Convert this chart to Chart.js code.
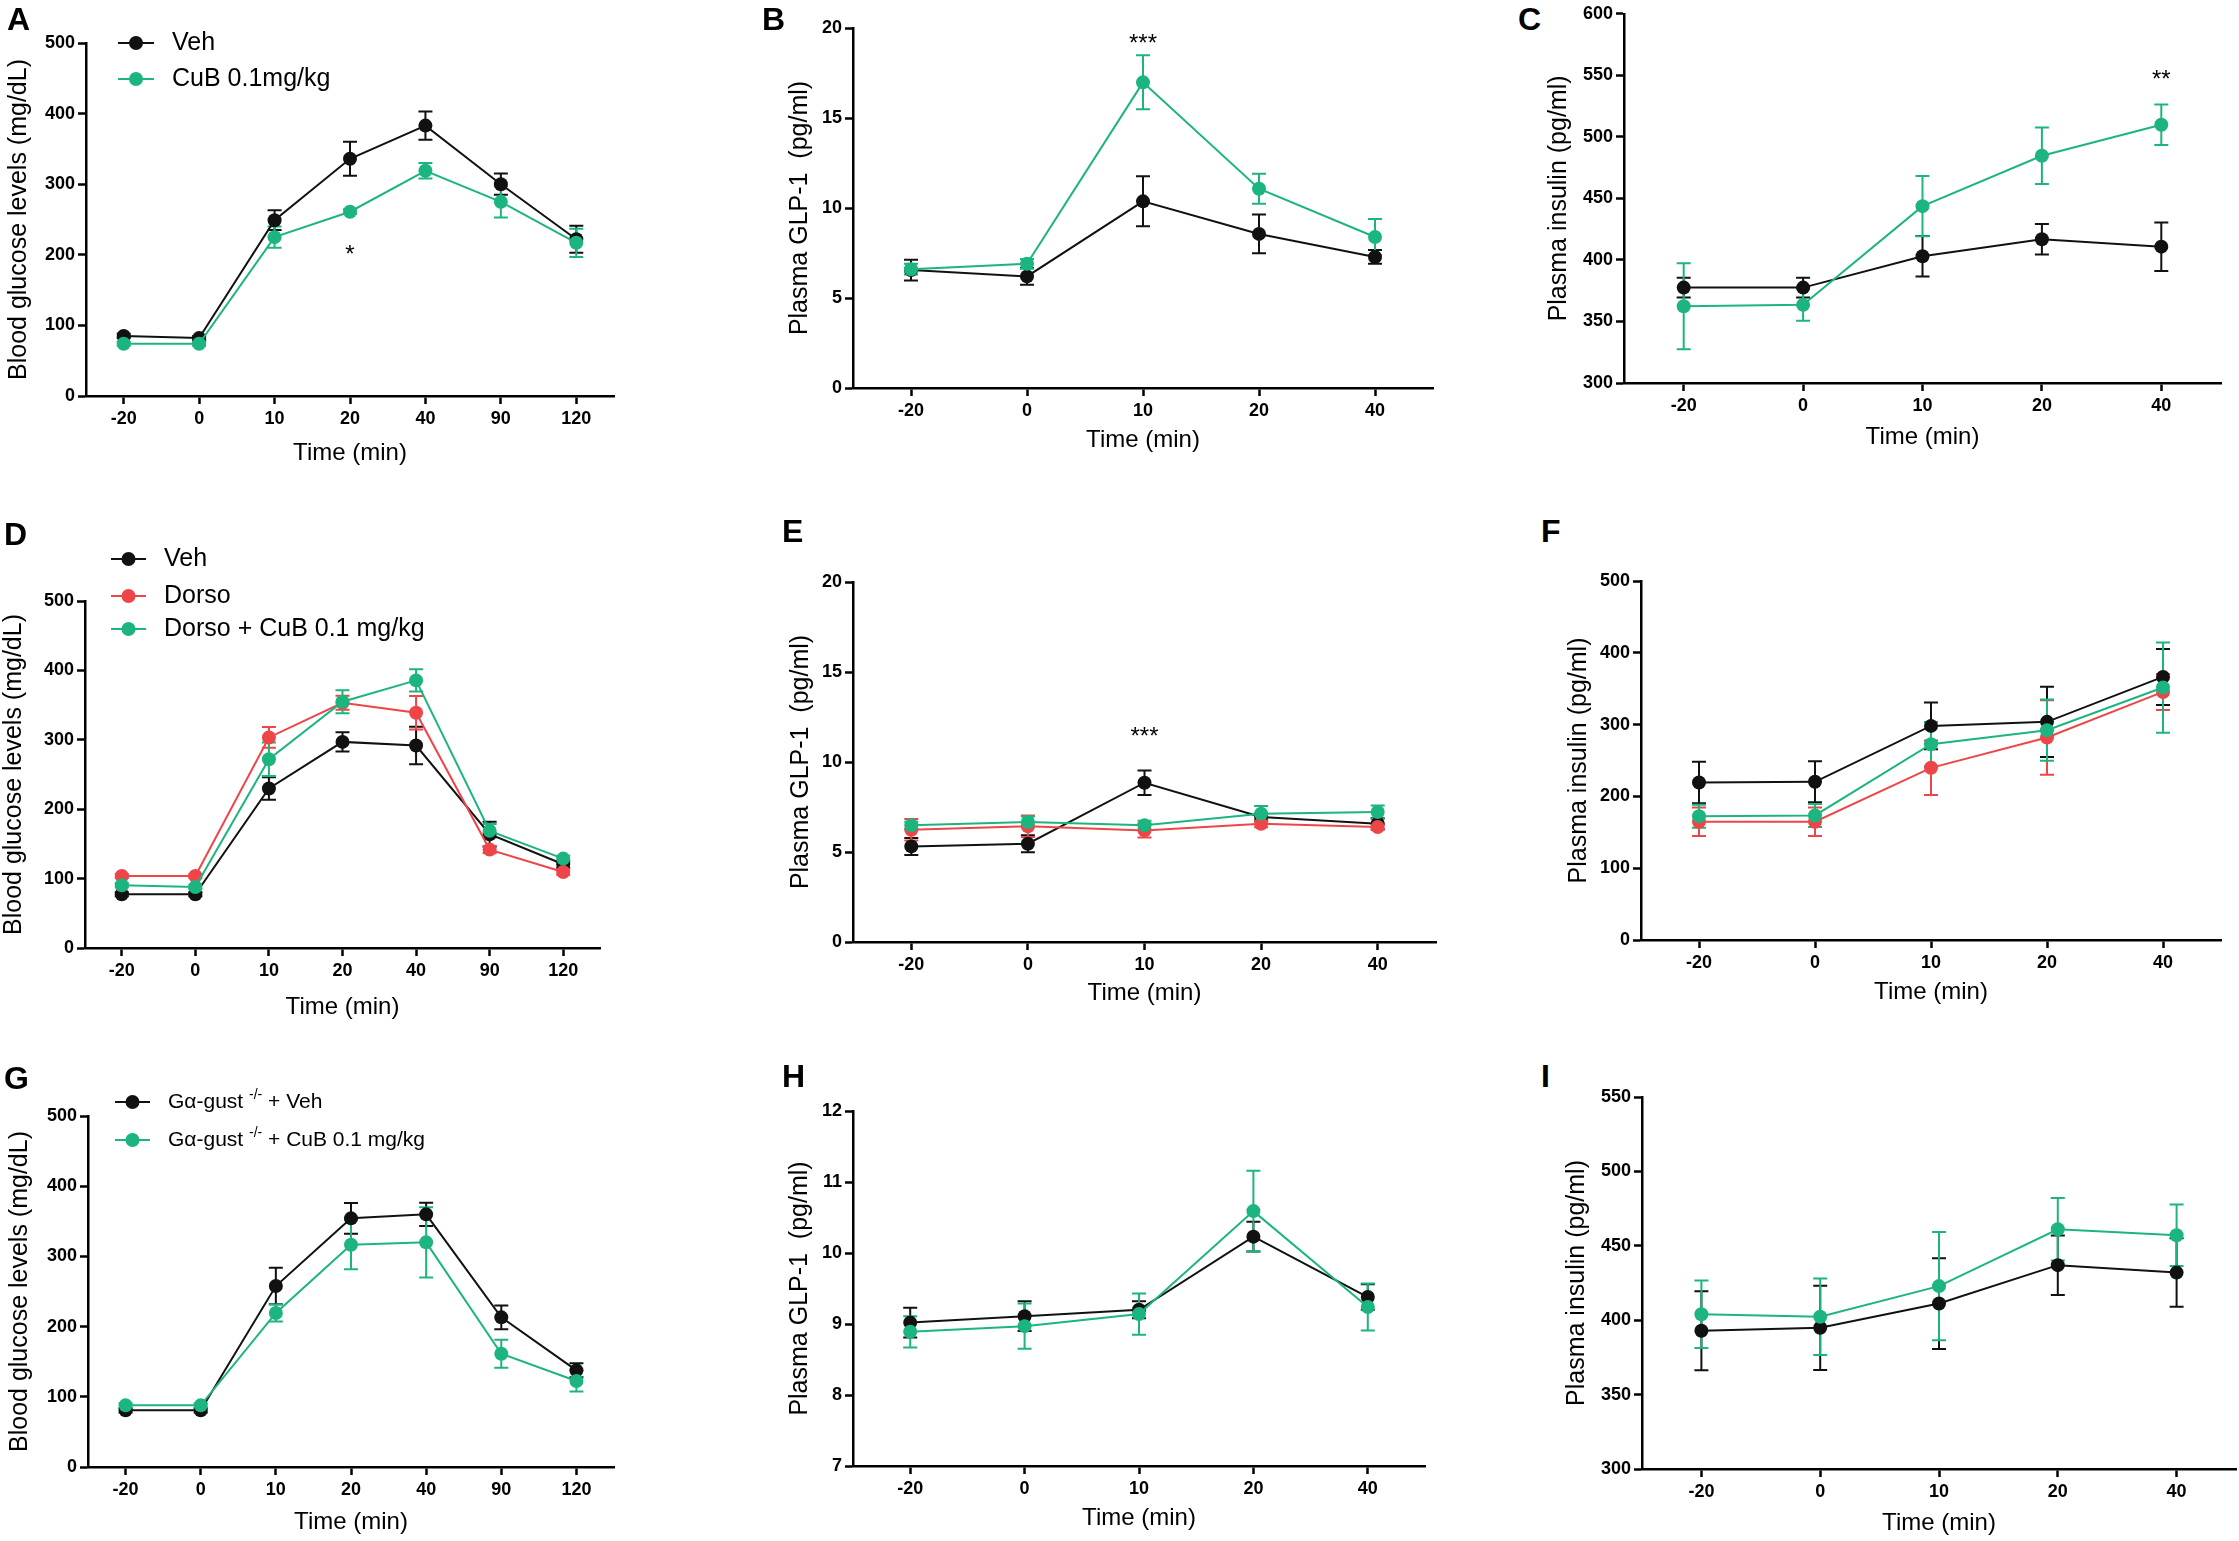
<!DOCTYPE html>
<html>
<head>
<meta charset="utf-8">
<script src="https://cdn.jsdelivr.net/npm/chart.js@4.4.0/dist/chart.umd.min.js"></script>
<style>
  html, body { margin: 0; padding: 0; background: #fff; }
  #page { position: relative; width: 2239px; height: 1541px; overflow: hidden; background: #fff; }
  #page canvas { position: absolute; }
  .letter { position: absolute; font: bold 32px "Liberation Sans", Arial, sans-serif; line-height: 32px; color: #000; z-index: 5; }
</style>
</head>
<body>
<div id="page"></div>
<script>
// x categories
const timesGlucose = ['-20', '0', '10', '20', '40', '90', '120'];
const timesHormone = ['-20', '0', '10', '20', '40'];

// A - blood glucose, Veh vs CuB
const aVeh = [85, 82, 249, 336, 383, 300, 222];
const aVehErr = [3, 3, 14, 24, 20, 15, 19];
const aCub = [74, 74, 225, 261, 319, 275, 217];
const aCubErr = [3, 3, 15, 3, 11, 22, 20];

// B - GLP-1
const bVeh = [6.55, 6.2, 10.37, 8.56, 7.28];
const bVehErr = [0.58, 0.46, 1.39, 1.08, 0.38];
const bCub = [6.6, 6.9, 16.98, 11.07, 8.39];
const bCubErr = [0.3, 0.27, 1.5, 0.83, 1.0];

// C - insulin
const cVeh = [377.5, 377.5, 403, 416.8, 410.8];
const cVehErr = [8, 8, 16.5, 12.4, 19.7];
const cCub = [362.4, 363.5, 443.7, 484.6, 509.8];
const cCubErr = [35, 13, 24.5, 23, 16.4];

// D - blood glucose with dorsomorphin
const dVeh = [77.4, 77.4, 229.8, 297, 291.8, 164, 120.7];
const dVehErr = [3, 3, 16.3, 14, 27, 18, 5];
const dDorso = [103.8, 103.8, 303.4, 353.4, 339, 141.8, 109.6];
const dDorsoErr = [3, 3, 15, 10, 24, 5, 4];
const dDorsoCub = [90.4, 88, 272, 354.8, 385.6, 168.8, 128.8];
const dDorsoCubErr = [3, 3, 24, 16.5, 16, 10, 4];

// E - GLP-1 with dorsomorphin
const eVeh = [5.31, 5.46, 8.85, 6.94, 6.57];
const eVehErr = [0.47, 0.47, 0.68, 0.2, 0.3];
const eDorso = [6.24, 6.43, 6.2, 6.57, 6.39];
const eDorsoErr = [0.6, 0.6, 0.4, 0.2, 0.15];
const eDorsoCub = [6.48, 6.67, 6.48, 7.13, 7.22];
const eDorsoCubErr = [0.2, 0.3, 0.25, 0.43, 0.37];

// F - insulin with dorsomorphin
const fVeh = [219.4, 220.3, 298.2, 303.8, 366.4];
const fVehErr = [29, 28.6, 32.7, 49, 39];
const fDorso = [164.7, 164.7, 239.8, 282, 345.5];
const fDorsoErr = [20, 20, 38, 52, 25];
const fDorsoCub = [172.5, 173.5, 272.7, 292.2, 351.6];
const fDorsoCubErr = [16, 16, 31, 42.7, 62.8];

// G - blood glucose, gustducin knockout
const gVeh = [80.7, 80.7, 257.8, 354.2, 359.9, 213.2, 137.7];
const gVehErr = [3, 3, 26, 22, 16.6, 17, 10];
const gCub = [87.8, 87.8, 219.4, 316.7, 320, 161.4, 122.5];
const gCubErr = [3, 3, 12, 35, 50, 20, 15];

// H - GLP-1, gustducin knockout
const hVeh = [9.02, 9.11, 9.2, 10.23, 9.38];
const hVehErr = [0.21, 0.21, 0.12, 0.21, 0.18];
const hCub = [8.89, 8.97, 9.14, 10.59, 9.24];
const hCubErr = [0.22, 0.32, 0.29, 0.57, 0.33];

// I - insulin, gustducin knockout
const iVeh = [392.9, 394.9, 411.2, 437, 432];
const iVehErr = [26.6, 28.3, 30.5, 20, 23];
const iCub = [404, 402.3, 422.9, 461.1, 457.1];
const iCubErr = [22.6, 25.7, 36.4, 21, 20.6];

const BLACK = '#111111';
const GREEN = '#1db57f';
const RED = '#ee4648';
const SANS = '"Liberation Sans", Arial, sans-serif';

const page = document.getElementById('page');

// error bars drawn under the points, through the chart's own scales
const errorBars = {
  id: 'errorBars',
  beforeDatasetsDraw(chart) {
    const ctx = chart.ctx;
    const y = chart.scales.y;
    chart.data.datasets.forEach((ds, di) => {
      const meta = chart.getDatasetMeta(di);
      ctx.save();
      ctx.strokeStyle = ds.borderColor;
      ctx.lineWidth = 2;
      meta.data.forEach((pt, i) => {
        const v = ds.data[i], e = ds.err[i];
        const top = y.getPixelForValue(v + e), bot = y.getPixelForValue(v - e);
        ctx.beginPath();
        ctx.moveTo(pt.x, top); ctx.lineTo(pt.x, bot);
        ctx.moveTo(pt.x - 7, top); ctx.lineTo(pt.x + 7, top);
        ctx.moveTo(pt.x - 7, bot); ctx.lineTo(pt.x + 7, bot);
        ctx.stroke();
      });
      ctx.restore();
    });
  }
};

// significance stars
const stars = {
  id: 'stars',
  afterDatasetsDraw(chart, args, opts) {
    const ctx = chart.ctx;
    (opts.items || []).forEach(it => {
      const px = chart.scales.x.getPixelForValue(chart.data.labels.indexOf(it.x));
      const py = chart.scales.y.getPixelForValue(it.y);
      ctx.save();
      ctx.fillStyle = '#000';
      ctx.font = '24px ' + SANS;
      ctx.textAlign = 'center';
      ctx.textBaseline = 'alphabetic';
      ctx.fillText(it.text, px, py + 0.58 * 24);
      ctx.restore();
    });
  }
};

// legend: line + dot, then text (parts may be superscript)
const panelLegend = {
  id: 'panelLegend',
  afterDraw(chart, args, opts) {
    if (!opts.rows) return;
    const ctx = chart.ctx;
    chart.data.datasets.forEach((ds, i) => {
      const y = opts.rows[i];
      ctx.save();
      ctx.strokeStyle = ds.borderColor;
      ctx.fillStyle = ds.borderColor;
      ctx.lineWidth = 2;
      ctx.beginPath(); ctx.moveTo(opts.x0, y); ctx.lineTo(opts.x1, y); ctx.stroke();
      ctx.beginPath(); ctx.arc((opts.x0 + opts.x1) / 2, y, 7, 0, Math.PI * 2); ctx.fill();
      ctx.fillStyle = '#000';
      ctx.textBaseline = 'middle';
      let x = opts.tx;
      const parts = ds.legendParts || [{ t: ds.label }];
      parts.forEach(p => {
        const size = p.sup ? opts.supSize : opts.size;
        ctx.font = size + 'px ' + SANS;
        ctx.fillText(p.t, x, p.sup ? y - opts.size * 0.35 : y);
        x += ctx.measureText(p.t).width;
      });
      ctx.restore();
    });
  }
};

function makePanel(p) {
  const cLeft = Math.round(p.titleX - 15);
  const cTop = Math.max(0, p.plotTop - 70);
  const cRight = Math.min(2239, p.endX + 12);
  const cBottom = Math.round(p.timeY + 15);
  const canvas = document.createElement('canvas');
  canvas.width = cRight - cLeft;
  canvas.height = cBottom - cTop;
  canvas.style.left = cLeft + 'px';
  canvas.style.top = cTop + 'px';
  canvas.style.width = canvas.width + 'px';
  canvas.style.height = canvas.height + 'px';
  page.appendChild(canvas);

  const yW = p.axisX - cLeft;
  const xH = cBottom - p.plotBottom;
  const n = p.series.length;

  new Chart(canvas, {
    type: 'line',
    data: {
      labels: p.labels,
      datasets: p.series.map((s, i) => ({
        label: s.label,
        legendParts: s.parts,
        data: s.data,
        err: s.err,
        borderColor: s.color,
        backgroundColor: s.color,
        pointBackgroundColor: s.color,
        pointBorderWidth: 0,
        pointRadius: 7,
        borderWidth: 2,
        tension: 0,
        order: n - i
      }))
    },
    options: {
      responsive: false,
      animation: false,
      devicePixelRatio: 1,
      layout: {
        autoPadding: false,
        padding: { left: 0, top: p.plotTop - cTop, right: cRight - p.endX, bottom: 0 }
      },
      plugins: {
        legend: { display: false },
        tooltip: { enabled: false },
        stars: { items: p.stars || [] },
        panelLegend: p.legend ? {
          x0: p.legend.x0 - cLeft, x1: p.legend.x1 - cLeft, tx: p.legend.tx - cLeft,
          rows: p.legend.rows.map(r => r - cTop), size: p.legend.size, supSize: p.legend.supSize
        } : {}
      },
      scales: {
        x: {
          type: 'category',
          offset: true,
          afterFit(scale) { scale.height = xH; },
          border: { display: true, color: '#000', width: 2.5 },
          grid: { display: true, offset: false, drawOnChartArea: false, drawTicks: true, tickLength: 8, tickWidth: 2.5, tickColor: '#000' },
          ticks: { color: '#000', padding: 4, maxRotation: 0, font: { family: SANS, size: 18, weight: 'bold' } },
          title: { display: true, text: 'Time (min)', color: '#000', padding: 0, font: { family: SANS, size: 24 } }
        },
        y: {
          min: p.yMin, max: p.yMax,
          afterFit(scale) { scale.width = yW; },
          border: { display: true, color: '#000', width: 2.5 },
          grid: { display: true, drawOnChartArea: false, drawTicks: true, tickLength: 8, tickWidth: 2.5, tickColor: '#000' },
          ticks: { stepSize: p.yStep, color: '#000', padding: 3, font: { family: SANS, size: 18, weight: 'bold' } },
          title: { display: true, text: p.yTitle, color: '#000', padding: 0, font: { family: SANS, size: 25 } }
        }
      }
    },
    plugins: [errorBars, stars, panelLegend]
  });

  const l = document.createElement('div');
  l.className = 'letter';
  l.textContent = p.letter[0];
  l.style.left = p.letter[1] + 'px';
  l.style.top = (p.letter[2] - 5) + 'px';
  page.appendChild(l);
}

const GLU = 'Blood glucose levels (mg/dL)';
const GLP = 'Plasma GLP-1  (pg/ml)';
const INS = 'Plasma insulin (pg/ml)';
const gustParts = rest => [{ t: 'G\u03b1-gust ' }, { t: '-/-', sup: true }, { t: ' + ' + rest }];

makePanel({
  letter: ['A', 7, 8], axisX: 86, endX: 614, plotTop: 43, plotBottom: 396, titleX: 19, timeY: 453,
  yMin: 0, yMax: 500, yStep: 100, yTitle: GLU, labels: timesGlucose,
  series: [
    { label: 'Veh', data: aVeh, err: aVehErr, color: BLACK },
    { label: 'CuB 0.1mg/kg', data: aCub, err: aCubErr, color: GREEN }
  ],
  legend: { x0: 118, x1: 154, tx: 172, rows: [43, 79], size: 25 },
  stars: [{ x: '20', y: 209, text: '*' }]
});
makePanel({
  letter: ['B', 762, 8], axisX: 853, endX: 1433, plotTop: 28, plotBottom: 388, titleX: 800, timeY: 440,
  yMin: 0, yMax: 20, yStep: 5, yTitle: GLP, labels: timesHormone,
  series: [
    { label: 'Veh', data: bVeh, err: bVehErr, color: BLACK },
    { label: 'CuB', data: bCub, err: bCubErr, color: GREEN }
  ],
  stars: [{ x: '10', y: 19.5, text: '***' }]
});
makePanel({
  letter: ['C', 1518, 8], axisX: 1624, endX: 2221, plotTop: 12, plotBottom: 383, titleX: 1559, timeY: 437,
  yMin: 300, yMax: 600, yStep: 50, yTitle: INS, labels: timesHormone,
  series: [
    { label: 'Veh', data: cVeh, err: cVehErr, color: BLACK },
    { label: 'CuB', data: cCub, err: cCubErr, color: GREEN }
  ],
  stars: [{ x: '40', y: 552, text: '**' }]
});
makePanel({
  letter: ['D', 4, 523], axisX: 85, endX: 600, plotTop: 601, plotBottom: 948, titleX: 14, timeY: 1007,
  yMin: 0, yMax: 500, yStep: 100, yTitle: GLU, labels: timesGlucose,
  series: [
    { label: 'Veh', data: dVeh, err: dVehErr, color: BLACK },
    { label: 'Dorso', data: dDorso, err: dDorsoErr, color: RED },
    { label: 'Dorso + CuB 0.1 mg/kg', data: dDorsoCub, err: dDorsoCubErr, color: GREEN }
  ],
  legend: { x0: 111, x1: 146, tx: 164, rows: [559, 596, 629], size: 25 }
});
makePanel({
  letter: ['E', 782, 520], axisX: 853, endX: 1436, plotTop: 582, plotBottom: 942, titleX: 801, timeY: 993,
  yMin: 0, yMax: 20, yStep: 5, yTitle: GLP, labels: timesHormone,
  series: [
    { label: 'Veh', data: eVeh, err: eVehErr, color: BLACK },
    { label: 'Dorso', data: eDorso, err: eDorsoErr, color: RED },
    { label: 'Dorso + CuB', data: eDorsoCub, err: eDorsoCubErr, color: GREEN }
  ],
  stars: [{ x: '10', y: 11.8, text: '***' }]
});
makePanel({
  letter: ['F', 1541, 520], axisX: 1641, endX: 2221, plotTop: 581, plotBottom: 940, titleX: 1579, timeY: 992,
  yMin: 0, yMax: 500, yStep: 100, yTitle: INS, labels: timesHormone,
  series: [
    { label: 'Veh', data: fVeh, err: fVehErr, color: BLACK },
    { label: 'Dorso', data: fDorso, err: fDorsoErr, color: RED },
    { label: 'Dorso + CuB', data: fDorsoCub, err: fDorsoCubErr, color: GREEN }
  ]
});
makePanel({
  letter: ['G', 4, 1067], axisX: 88, endX: 614, plotTop: 1116, plotBottom: 1467, titleX: 20, timeY: 1522,
  yMin: 0, yMax: 500, yStep: 100, yTitle: GLU, labels: timesGlucose,
  series: [
    { label: 'G\u03b1-gust -/- + Veh', parts: gustParts('Veh'), data: gVeh, err: gVehErr, color: BLACK },
    { label: 'G\u03b1-gust -/- + CuB 0.1 mg/kg', parts: gustParts('CuB 0.1 mg/kg'), data: gCub, err: gCubErr, color: GREEN }
  ],
  legend: { x0: 115, x1: 150, tx: 168, rows: [1102, 1140], size: 21, supSize: 14 }
});
makePanel({
  letter: ['H', 782, 1065], axisX: 853, endX: 1425, plotTop: 1111, plotBottom: 1466, titleX: 800, timeY: 1518,
  yMin: 7, yMax: 12, yStep: 1, yTitle: GLP, labels: timesHormone,
  series: [
    { label: 'Veh', data: hVeh, err: hVehErr, color: BLACK },
    { label: 'CuB', data: hCub, err: hCubErr, color: GREEN }
  ]
});
makePanel({
  letter: ['I', 1541, 1065], axisX: 1642, endX: 2236, plotTop: 1097, plotBottom: 1469, titleX: 1577, timeY: 1523,
  yMin: 300, yMax: 550, yStep: 50, yTitle: INS, labels: timesHormone,
  series: [
    { label: 'Veh', data: iVeh, err: iVehErr, color: BLACK },
    { label: 'CuB', data: iCub, err: iCubErr, color: GREEN }
  ]
});
</script>
</body>
</html>
